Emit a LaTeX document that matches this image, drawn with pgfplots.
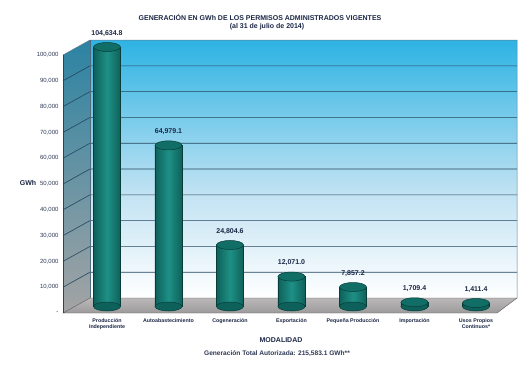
\documentclass[border=0pt]{standalone}
\usepackage{fontspec}
\setmainfont{Liberation Sans}
\usepackage{pgfplots}
\pgfplotsset{compat=1.18}
\definecolor{navy}{HTML}{1B2745}
\definecolor{ticknavy}{HTML}{2E3856}
\definecolor{gridc}{HTML}{24465F}
\definecolor{tealdark}{HTML}{0E615A}
\definecolor{teallight}{HTML}{1E9086}
\definecolor{tealcap}{HTML}{106E67}
\definecolor{edgec}{HTML}{083C38}
\definecolor{skytop}{HTML}{2DB3E3}
\definecolor{skymid}{HTML}{C3E3F3}
\definecolor{walltop}{HTML}{2B83A3}
\definecolor{wallmid}{HTML}{7FA9BB}
\definecolor{wallbot}{HTML}{A4A4A4}
\definecolor{floorback}{HTML}{BAB8B8}
\definecolor{floorfront}{HTML}{9C9A9A}
\pgfdeclareplotmark{cylcap}{\pgfpathellipse{\pgfpointorigin}{\pgfqpoint{13.5pt}{0pt}}{\pgfqpoint{0pt}{4.5pt}}\pgfusepathqfillstroke}
\pgfplotsset{
  cyl/.style={ybar, bar width=27pt, bar shift=0pt, draw=edgec, line width=0.5pt,
    left color=tealdark, right color=tealdark, middle color=teallight,
    point meta=explicit symbolic, nodes near coords,
    every node near coord/.append style={font=\bfseries\fontsize{7}{8}\selectfont, text=navy, yshift=7pt}},
}
\begin{document}
\begin{tikzpicture}
\path[use as bounding box] (0,0) rectangle (530pt,368pt);
\node[font=\bfseries\fontsize{7}{8}\selectfont, text=navy] at (260pt,351pt) {GENERACIÓN EN GWh DE LOS PERMISOS ADMINISTRADOS VIGENTES};
\node[font=\bfseries\fontsize{7}{8}\selectfont, text=navy] at (267pt,341pt) {(al 31 de julio de 2014)};
\node[font=\bfseries\fontsize{7}{8}\selectfont, text=navy] at (28pt,185pt) {GWh};
\node[font=\bfseries\fontsize{7}{8}\selectfont, text=navy] at (281pt,28pt) {MODALIDAD};
\node[font=\bfseries\fontsize{6.6}{8}\selectfont, text=ticknavy] at (277pt,14pt) {Generación Total Autorizada: 215,583.1 GWh**};
\begin{axis}[
  at={(63pt,52pt)}, anchor=south west,
  scale only axis, width=454pt, height=276pt,
  xmin=-0.7154, xmax=6.667, ymin=-3831, ymax=107460,
  clip=false,
  axis line style={draw=none},
  major tick length=0pt,
  scaled y ticks=false,
  xtick={0,...,6},
  xticklabels={{Producción\\Independiente},{Autoabastecimiento},{Cogeneración},{Exportación},{Pequeña Producción},{Importación},{Usos Propios\\Continuos*}},
  xticklabel style={align=center, font=\bfseries\fontsize{5.3}{6.3}\selectfont, text=navy, yshift=1pt},
  ytick={-2621,7782,18185,28588,38991,49394,59797,70200,80603,91006,101409},
  yticklabels={{-},{10,000},{20,000},{30,000},{40,000},{50,000},{60,000},{70,000},{80,000},{90,000},{100,000}},
  yticklabel style={font=\fontsize{6}{7}\selectfont, text=ticknavy, xshift=-1pt},
]
% back wall
\shade[top color=skytop, bottom color=skymid] (axis cs:-0.2764,45000) rectangle (axis cs:6.667,107457);
\shade[top color=skymid, bottom color=white] (axis cs:-0.2764,3427) rectangle (axis cs:6.667,45000);
% left wall
\shade[top color=walltop, middle color=wallmid, bottom color=wallbot] (axis cs:-0.7154,-2621) -- (axis cs:-0.7154,101409) -- (axis cs:-0.2764,107457) -- (axis cs:-0.2764,3427) -- cycle;
% floor
\shade[top color=floorback, bottom color=floorfront, draw=gray!70!black, line width=0.4pt] (axis cs:-0.2764,3427) -- (axis cs:6.667,3427) -- (axis cs:6.342,-2621) -- (axis cs:-0.7154,-2621) -- cycle;
% grid lines
\draw[gridc, line width=0.6pt] (axis cs:-0.7154,7782) -- (axis cs:-0.2764,13830) -- (axis cs:6.667,13830);
\draw[gridc, line width=0.6pt] (axis cs:-0.7154,18185) -- (axis cs:-0.2764,24233) -- (axis cs:6.667,24233);
\draw[gridc, line width=0.6pt] (axis cs:-0.7154,28588) -- (axis cs:-0.2764,34636) -- (axis cs:6.667,34636);
\draw[gridc, line width=0.6pt] (axis cs:-0.7154,38991) -- (axis cs:-0.2764,45039) -- (axis cs:6.667,45039);
\draw[gridc, line width=0.6pt] (axis cs:-0.7154,49394) -- (axis cs:-0.2764,55442) -- (axis cs:6.667,55442);
\draw[gridc, line width=0.6pt] (axis cs:-0.7154,59797) -- (axis cs:-0.2764,65845) -- (axis cs:6.667,65845);
\draw[gridc, line width=0.6pt] (axis cs:-0.7154,70200) -- (axis cs:-0.2764,76248) -- (axis cs:6.667,76248);
\draw[gridc, line width=0.6pt] (axis cs:-0.7154,80603) -- (axis cs:-0.2764,86651) -- (axis cs:6.667,86651);
\draw[gridc, line width=0.6pt] (axis cs:-0.7154,91006) -- (axis cs:-0.2764,97054) -- (axis cs:6.667,97054);
\draw[gridc!70, line width=0.5pt] (axis cs:-0.7154,101409) -- (axis cs:-0.2764,107457) -- (axis cs:6.667,107457) -- (axis cs:6.667,3427);
\draw[gridc, line width=0.6pt] (axis cs:-0.7154,-2621) -- (axis cs:-0.7154,101409);
\draw[gridc!80, line width=0.5pt] (axis cs:-0.2764,3427) -- (axis cs:-0.2764,107457);
% bottom caps
\addplot[only marks, mark=cylcap, mark options={fill=tealdark, draw=edgec, line width=0.5pt}] coordinates {(0,0) (1,0) (2,0) (3,0) (4,0) (5,0) (6,0)};
% bars, one per category so that each has its own shading
\addplot[cyl] coordinates {(0,104634.8) [{104,634.8}]};
\addplot[cyl] coordinates {(1,64979.1) [{64,979.1}]};
\addplot[cyl] coordinates {(2,24804.6) [{24,804.6}]};
\addplot[cyl] coordinates {(3,12071.0) [{12,071.0}]};
\addplot[cyl] coordinates {(4,7857.2) [{7,857.2}]};
\addplot[cyl] coordinates {(5,1709.4) [{1,709.4}]};
\addplot[cyl] coordinates {(6,1411.4) [{1,411.4}]};
% top caps
\addplot[only marks, mark=cylcap, mark options={fill=tealcap, draw=edgec, line width=0.5pt}] coordinates {(0,104634.8) (1,64979.1) (2,24804.6) (3,12071.0) (4,7857.2) (5,1709.4) (6,1411.4)};
\end{axis}
\end{tikzpicture}
\end{document}
